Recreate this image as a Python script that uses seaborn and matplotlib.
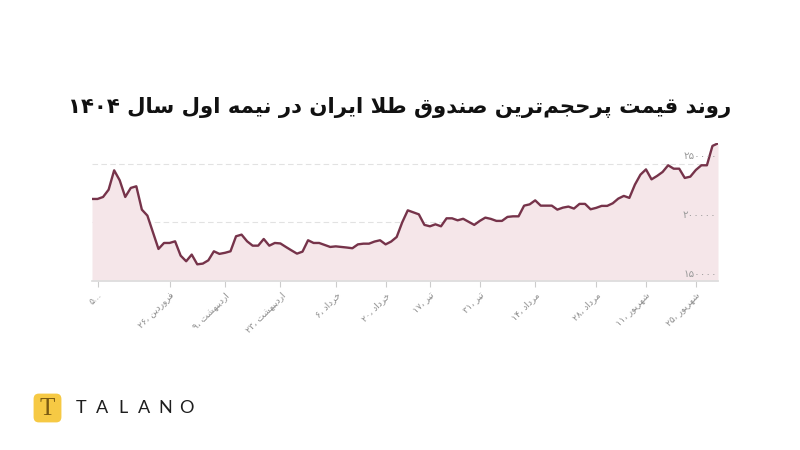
import matplotlib
matplotlib.use("Agg")
import matplotlib.pyplot as plt
import matplotlib.transforms as mtransforms
from matplotlib.patches import FancyBboxPatch
import numpy as np
import pandas as pd
import seaborn as sns

# قیمت روزانه صندوق (ریال) در روزهای معاملاتی نیمه اول ۱۴۰۴
prices = [
    219900, 219900, 221600, 227800, 244300, 235800, 221600, 229300, 230700, 210800,
    205700, 191500, 177300, 182400, 182400, 183800, 171600, 166800, 172500, 164200,
    164800, 167600, 175300, 173100, 174000, 175300, 188100, 189500, 183800, 180100,
    180100, 185800, 180100, 182400, 182000, 179000, 176100, 173300, 175000, 184700,
    182400, 182400, 180700, 179000, 179500, 179000, 178500, 177900, 181200, 181800,
    181800, 183600, 184700, 181200, 183600, 187500, 200000, 210200, 208500, 206800,
    197800, 196600, 198300, 196600, 203400, 203400, 201700, 203000, 200400, 197800,
    201200, 204000, 202900, 201200, 201200, 204600, 205100, 205100, 214200, 215300,
    218700, 214200, 214200, 214200, 210800, 212500, 213400, 211700, 215700, 215700,
    211100, 212300, 214000, 214000, 216200, 220200, 222500, 220800, 232100, 240600,
    245100, 236600, 239500, 242900, 248600, 245700, 245700, 237800, 238900, 244600,
    248600, 248600, 265100, 267300,
]
tick_days = [1, 14, 24, 34, 44, 53, 61, 70, 80, 91, 100, 109]
tick_labels = ["...۵", "فروردین ،۲۶", "اردیبهشت ،۹", "اردیبهشت ،۲۳", "خرداد ،۶", "خرداد ،۲۰",
               "تیر ،۱۷", "تیر ،۳۱", "مرداد ،۱۴", "مرداد ،۲۸", "شهریور ،۱۱", "شهریور ،۲۵"]
y_ticks = [150000, 200000, 250000]
title = "روند قیمت پرحجم\u200cترین صندوق طلا ایران در نیمه اول سال ۱۴۰۴"

# --- شکل‌دهی ساده حروف فارسی (matplotlib خودش اتصال و راست‌به‌چپ ندارد)
DUAL = {'ب': 0xFE8F, 'پ': 0xFB56, 'ت': 0xFE95, 'ث': 0xFE99, 'ج': 0xFE9D, 'چ': 0xFB7A,
        'ح': 0xFEA1, 'خ': 0xFEA5, 'س': 0xFEB1, 'ش': 0xFEB5, 'ص': 0xFEB9, 'ض': 0xFEBD,
        'ط': 0xFEC1, 'ظ': 0xFEC5, 'ع': 0xFEC9, 'غ': 0xFECD, 'ف': 0xFED1, 'ق': 0xFED5,
        'ک': 0xFB8E, 'گ': 0xFB92, 'ل': 0xFEDD, 'م': 0xFEE1, 'ن': 0xFEE5, 'ه': 0xFEE9,
        'ی': 0xFBFC}
RIGHT = {'ا': 0xFE8D, 'آ': 0xFE81, 'د': 0xFEA9, 'ذ': 0xFEAB, 'ر': 0xFEAD, 'ز': 0xFEAF,
         'ژ': 0xFB8A, 'و': 0xFEED}
DIGITS = "۰۱۲۳۴۵۶۷۸۹0123456789"


def fa(s):
    out = []
    i = 0
    while i < len(s):
        c = s[i]
        prev_join = i > 0 and s[i - 1] in DUAL
        if c == 'ل' and i + 1 < len(s) and s[i + 1] == 'ا':
            out.append(chr(0xFEFC if prev_join else 0xFEFB))
            i += 2
            continue
        if c in DUAL or c in RIGHT:
            p = prev_join
            n = c in DUAL and i + 1 < len(s) and (s[i + 1] in DUAL or s[i + 1] in RIGHT)
            base = DUAL.get(c, RIGHT.get(c))
            k = 3 if (p and n) else 1 if p else 2 if n else 0
            out.append(chr(base + k))
        elif c != '\u200c':
            out.append(c)
        i += 1
    # ترتیب دیداری: کل رشته برعکس، اعداد سر جای خود
    toks = []
    for ch in out:
        if ch in DIGITS and toks and toks[-1][-1] in DIGITS:
            toks[-1] += ch
        else:
            toks.append(ch)
    return "".join(reversed(toks))


def fa_num(v):
    return str(v).translate(str.maketrans("0123456789", "۰۱۲۳۴۵۶۷۸۹"))


df = pd.DataFrame({"day": np.arange(len(prices)), "price": prices})

sns.set_theme(style="white")
plt.rcParams['font.family'] = ['DejaVu Sans']

fig = plt.figure(figsize=(8, 4.5), dpi=100)
ax = fig.add_axes([0.115, 0.3756, 0.7825, 0.3077])

line_c = "#76334a"
ax.fill_between(df["day"], df["price"], 150000, color="#f5e6e9", lw=0)
sns.lineplot(data=df, x="day", y="price", ax=ax, color=line_c, lw=1.7)

ax.set_xlim(0, len(prices) - 1)
ax.set_ylim(150000, 268000)
ax.set_xlabel("")
ax.set_ylabel("")

ax.set_yticks(y_ticks)
ax.yaxis.grid(True, color="#e2e2e2", linestyle=(0, (5, 3)), lw=0.8)
ax.tick_params(axis="y", length=0, labelleft=False)
trans = mtransforms.blended_transform_factory(ax.transAxes, ax.transData)
for v in y_ticks:
    ax.text(0.998, v + 2000, fa_num(v), transform=trans, ha="right", va="bottom",
            fontsize=7.5, color="#9a9a9a")

ax.set_xticks(tick_days)
ax.set_xticklabels([fa(t) for t in tick_labels], rotation=45, ha="right",
                   rotation_mode="anchor", fontsize=6.5, color="#8c8c8c")
ax.tick_params(axis="x", length=4, width=0.8, color="#cccccc", pad=3, bottom=True)
for s in ["top", "left", "right"]:
    ax.spines[s].set_visible(False)
ax.spines["bottom"].set_color("#dddddd")

fig.text(0.5, 0.76, fa(title), ha="center", va="center", fontsize=15.3,
         fontweight="bold", color="#111111")

# لوگو
lax = fig.add_axes([33 / 800, 1 - 423 / 450, 29 / 800, 30 / 450])
lax.set_xlim(0, 1)
lax.set_ylim(0, 1)
lax.axis("off")
lax.add_patch(FancyBboxPatch((0.02, 0.02), 0.96, 0.96,
                             boxstyle="round,pad=0,rounding_size=0.18",
                             fc="#f6c944", ec="none"))
lax.text(0.5, 0.47, "T", ha="center", va="center", fontsize=18,
         family="Liberation Serif", color="#7a5a12")
for k, ch in enumerate("TALANO"):
    fig.text((81 + k * 21) / 800, 1 - 408 / 450, ch, ha="center", va="center",
             fontsize=13, family="Lato", color="#1e1e1e")

fig.savefig("out.png", dpi=100, facecolor="white")
